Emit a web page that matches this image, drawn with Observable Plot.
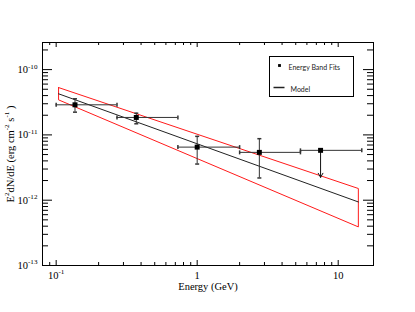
<!DOCTYPE html>
<html><head><meta charset="utf-8">
<script src="https://cdn.jsdelivr.net/npm/d3@7"></script>
<script src="https://cdn.jsdelivr.net/npm/@observablehq/plot@0.6"></script>
<style>body{margin:0;background:#fff} #chart{width:415px;height:312px}</style>
</head><body><div id="chart"></div>
<script>
// Energy band fits (GeV, erg cm^-2 s^-1)
const bandEnergy   = [0.136, 0.37, 1.0, 2.76];
const bandEnergyLo = [0.1, 0.27, 0.73, 2.0];
const bandEnergyHi = [0.27, 0.73, 2.0, 5.4];
const bandFlux     = [2.89e-11, 1.85e-11, 6.5e-12, 5.4e-12];
const bandFluxLo   = [2.23e-11, 1.48e-11, 3.58e-12, 2.19e-12];
const bandFluxHi   = [3.57e-11, 2.15e-11, 9.5e-12, 8.75e-12];
// Upper limit
const ulEnergy   = [7.5];
const ulEnergyLo = [5.4];
const ulEnergyHi = [14.7];
const ulFlux     = [5.8e-12];
const ulArrowTo  = [2.24e-12];
// Model and its uncertainty band
const modelEnergy = [0.104, 13.9];
const modelFlux   = [4.26e-11, 9.4e-13];
const bowEnergy = [0.104, 13.9, 13.9, 0.104, 0.104];
const bowFlux   = [5.31e-11, 1.51e-12, 3.9e-13, 3.44e-11, 5.31e-11];
// Axis ticks
const xTickValues = [0.1, 1, 10];
const xTickLabels = ["10^{-1}", "1", "10"];
const yTickValues = [1e-13, 1e-12, 1e-11, 1e-10];
const yTickLabels = ["10^{-13}", "10^{-12}", "10^{-11}", "10^{-10}"];
const xDomain = [0.08, 17.8];
const yDomain = [1e-13, 2.6e-10];

const xMinor = [];
for (const d of [0.01, 0.1, 1]) for (let k = 2; k <= 9; k++) { const v = k * d; if (v > xDomain[0] && v < xDomain[1]) xMinor.push(v); }
const yMinor = [];
for (const d of [1e-13, 1e-12, 1e-11, 1e-10]) for (let k = 2; k <= 9; k++) { const v = k * d; if (v > yDomain[0] && v < yDomain[1]) yMinor.push(v); }

const bands = bandEnergy.map((e, i) => ({e, lo: bandEnergyLo[i], hi: bandEnergyHi[i], f: bandFlux[i], flo: bandFluxLo[i], fhi: bandFluxHi[i]}));
const uls = ulEnergy.map((e, i) => ({e, lo: ulEnergyLo[i], hi: ulEnergyHi[i], f: ulFlux[i], to: ulArrowTo[i]}));
const model = modelEnergy.map((e, i) => ({e, f: modelFlux[i]}));
const bow = bowEnergy.map((e, i) => ({e, f: bowFlux[i]}));
const xt = xTickValues.map((v, i) => ({v, t: xTickLabels[i]}));
const yt = yTickValues.map((v, i) => ({v, t: yTickLabels[i]}));

const vcap = {draw(c, s) { const r = Math.sqrt(s / Math.PI); c.moveTo(0, -r); c.lineTo(0, r); }};
const hcap = {draw(c, s) { const r = Math.sqrt(s / Math.PI); c.moveTo(-r, 0); c.lineTo(r, 0); }};

const W = 415, H = 312, mL = 42, mR = 42, mT = 42, mB = 47;
const iW = W - mL - mR, iH = H - mT - mB;
const ebar = "#333";
const FS = 10.5;

const svg = Plot.plot({
  width: W, height: H,
  marginLeft: mL, marginRight: mR, marginTop: mT, marginBottom: mB,
  style: {fontFamily: "'Liberation Serif', 'Times New Roman', serif", fontSize: FS + "px", background: "#fff", color: "#000"},
  x: {type: "log", domain: xDomain, axis: null},
  y: {type: "log", domain: yDomain, axis: null},
  marks: [
    Plot.tickX(xTickValues, {x: d => d, insetTop: iH - 5, stroke: "#000"}),
    Plot.tickX(xTickValues, {x: d => d, insetBottom: iH - 5, stroke: "#000"}),
    Plot.tickX(xMinor, {x: d => d, insetTop: iH - 3, stroke: "#000"}),
    Plot.tickX(xMinor, {x: d => d, insetBottom: iH - 3, stroke: "#000"}),
    Plot.tickY(yTickValues, {y: d => d, insetRight: iW - 10, stroke: "#000"}),
    Plot.tickY(yTickValues, {y: d => d, insetLeft: iW - 10, stroke: "#000"}),
    Plot.tickY(yMinor, {y: d => d, insetRight: iW - 6, stroke: "#000"}),
    Plot.tickY(yMinor, {y: d => d, insetLeft: iW - 6, stroke: "#000"}),
    Plot.line(bow, {x: "e", y: "f", stroke: "#ff1a1a", strokeWidth: 1}),
    Plot.line(model, {x: "e", y: "f", stroke: "#222", strokeWidth: 1}),
    Plot.ruleY(bands, {y: "f", x1: "lo", x2: "hi", stroke: ebar, strokeWidth: 1}),
    Plot.ruleX(bands, {x: "e", y1: "flo", y2: "fhi", stroke: ebar, strokeWidth: 1}),
    Plot.dot(bands, {x: "lo", y: "f", symbol: vcap, r: 2, stroke: ebar, fill: "none"}),
    Plot.dot(bands, {x: "hi", y: "f", symbol: vcap, r: 2, stroke: ebar, fill: "none"}),
    Plot.dot(bands, {x: "e", y: "flo", symbol: hcap, r: 2, stroke: ebar, fill: "none"}),
    Plot.dot(bands, {x: "e", y: "fhi", symbol: hcap, r: 2, stroke: ebar, fill: "none"}),
    Plot.ruleY(uls, {y: "f", x1: "lo", x2: "hi", stroke: ebar, strokeWidth: 1}),
    Plot.dot(uls, {x: "lo", y: "f", symbol: vcap, r: 2, stroke: ebar, fill: "none"}),
    Plot.dot(uls, {x: "hi", y: "f", symbol: vcap, r: 2, stroke: ebar, fill: "none"}),
    Plot.arrow(uls, {x1: "e", x2: "e", y1: "f", y2: "to", stroke: "#111", strokeWidth: 1, headLength: 7}),
    Plot.dot(bands, {x: "e", y: "f", symbol: "square", r: 2.8, fill: "#000", stroke: "none"}),
    Plot.dot(uls, {x: "e", y: "f", symbol: "square", r: 2.8, fill: "#000", stroke: "none"}),
    Plot.frame({insetLeft: 227, insetRight: 20, insetTop: 14, insetBottom: 169, stroke: "#000", fill: "#fff"}),
    Plot.dot([0], {frameAnchor: "top-left", dx: 237, dy: 23, symbol: "square", r: 1.6, fill: "#000", stroke: "none"}),
    Plot.text(["Energy Band Fits"], {frameAnchor: "top-left", dx: 246, dy: 23, text: d => d, textAnchor: "start", fontSize: 7, fontFamily: "Lato, 'Open Sans', sans-serif", fill: "#222"}),
    Plot.dot([0], {frameAnchor: "top-left", dx: 236.5, dy: 45, symbol: hcap, r: 5.5, stroke: "#222", fill: "none"}),
    Plot.text(["Model"], {frameAnchor: "top-left", dx: 248, dy: 45, text: d => d, textAnchor: "start", fontSize: 7, fontFamily: "Lato, 'Open Sans', sans-serif", fill: "#222"}),
    Plot.text(xt, {x: "v", frameAnchor: "bottom", dy: 13, text: "t", textAnchor: "middle", fontSize: FS}),
    Plot.text(yt, {y: "v", frameAnchor: "left", dx: -5, text: "t", textAnchor: "end", fontSize: FS}),
    Plot.text(["Energy (GeV)"], {frameAnchor: "bottom", dy: 24, text: d => d, textAnchor: "middle", fontSize: FS}),
    Plot.text(["E^{2}dN/dE (erg cm^{-2} s^{-1} )"], {frameAnchor: "left", dx: -32, text: d => d, textAnchor: "middle", rotate: -90, fontSize: FS}),
    Plot.frame({stroke: "#000", strokeWidth: 1})
  ]
});

function rich(sel, fs) {
  const shift = fs * 0.42;
  sel.each(function() {
    const t = d3.select(this);
    const s = t.text();
    if (!s.includes("^{")) return;
    t.text(null);
    const parts = s.split(/\^\{([^}]*)\}/);
    let shifted = false;
    parts.forEach((p, i) => {
      const sup = i % 2 === 1;
      if (p === "") return;
      const ts = t.append("tspan").text(p);
      if (sup) {
        ts.attr("font-size", fs * 0.68);
        if (!shifted) { ts.attr("dy", -shift); shifted = true; }
      } else if (shifted) { ts.attr("dy", shift); shifted = false; }
    });
  });
}
rich(d3.select(svg).selectAll("text"), FS);
document.getElementById("chart").appendChild(svg);
</script>
</body></html>
